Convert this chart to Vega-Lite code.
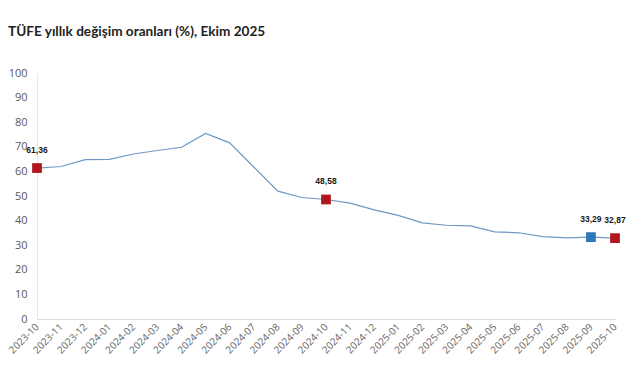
{
  "$schema": "https://vega.github.io/schema/vega-lite/v6.json",
  "width": 578,
  "height": 246,
  "autosize": {"type": "none"},
  "padding": {"left": 37, "top": 73, "right": 26, "bottom": 61},
  "background": "white",
  "title": {
    "text": "TÜFE yıllık değişim oranları (%), Ekim 2025",
    "anchor": "start",
    "frame": "group",
    "dx": -29,
    "offset": 17,
    "baseline": "alphabetic",
    "fontSize": 13.6,
    "fontWeight": "bold",
    "font": "Lato",
    "color": "#222222"
  },
  "config": {
    "view": {"stroke": null},
    "locale": {"number": {"decimal": ",", "thousands": ".", "grouping": [3], "currency": ["", " TL"]}}
  },
  "data": {
    "values": [
      {"ay": "2023-10", "oran": 61.36, "vurgu": "kirmizi"},
      {"ay": "2023-11", "oran": 61.98, "vurgu": null},
      {"ay": "2023-12", "oran": 64.77, "vurgu": null},
      {"ay": "2024-01", "oran": 64.86, "vurgu": null},
      {"ay": "2024-02", "oran": 67.07, "vurgu": null},
      {"ay": "2024-03", "oran": 68.50, "vurgu": null},
      {"ay": "2024-04", "oran": 69.80, "vurgu": null},
      {"ay": "2024-05", "oran": 75.45, "vurgu": null},
      {"ay": "2024-06", "oran": 71.60, "vurgu": null},
      {"ay": "2024-07", "oran": 61.78, "vurgu": null},
      {"ay": "2024-08", "oran": 51.97, "vurgu": null},
      {"ay": "2024-09", "oran": 49.38, "vurgu": null},
      {"ay": "2024-10", "oran": 48.58, "vurgu": "kirmizi"},
      {"ay": "2024-11", "oran": 47.09, "vurgu": null},
      {"ay": "2024-12", "oran": 44.38, "vurgu": null},
      {"ay": "2025-01", "oran": 42.12, "vurgu": null},
      {"ay": "2025-02", "oran": 39.05, "vurgu": null},
      {"ay": "2025-03", "oran": 38.10, "vurgu": null},
      {"ay": "2025-04", "oran": 37.86, "vurgu": null},
      {"ay": "2025-05", "oran": 35.41, "vurgu": null},
      {"ay": "2025-06", "oran": 35.05, "vurgu": null},
      {"ay": "2025-07", "oran": 33.52, "vurgu": null},
      {"ay": "2025-08", "oran": 32.95, "vurgu": null},
      {"ay": "2025-09", "oran": 33.29, "vurgu": "mavi"},
      {"ay": "2025-10", "oran": 32.87, "vurgu": "kirmizi"}
    ]
  },
  "encoding": {
    "x": {
      "field": "ay",
      "type": "ordinal",
      "scale": {"type": "point", "padding": 0},
      "axis": {
        "title": null,
        "labelAngle": -45,
        "labelAlign": "right",
        "labelBaseline": "middle",
        "labelFontSize": 10,
        "labelFont": "Open Sans",
        "labelColor": "#666666",
        "labelPadding": 6,
        "ticks": false,
        "domainColor": "#d9d9d9",
        "grid": false
      }
    },
    "y": {
      "field": "oran",
      "type": "quantitative",
      "scale": {"domain": [0, 100], "nice": false},
      "axis": {
        "title": null,
        "values": [0, 10, 20, 30, 40, 50, 60, 70, 80, 90, 100],
        "labelFontSize": 11,
        "labelFont": "Open Sans",
        "labelColor": "#595959",
        "labelPadding": 10,
        "ticks": false,
        "domainColor": "#e6e6e6",
        "grid": false
      }
    }
  },
  "layer": [
    {
      "mark": {"type": "line", "color": "#6E98C2", "strokeWidth": 1.2}
    },
    {
      "transform": [{"filter": "datum.vurgu != null"}],
      "mark": {"type": "square", "size": 95, "opacity": 1, "filled": true},
      "encoding": {
        "color": {
          "field": "vurgu",
          "type": "nominal",
          "scale": {"domain": ["kirmizi", "mavi"], "range": ["#B1161F", "#2F78BA"]},
          "legend": null
        }
      }
    },
    {
      "transform": [{"filter": "datum.vurgu != null"}],
      "mark": {"type": "text", "dy": -18, "fontSize": 8.5, "fontWeight": "bold", "font": "Liberation Sans", "color": "#1a1a1a"},
      "encoding": {
        "text": {"field": "oran", "type": "quantitative", "format": ".2f"}
      }
    }
  ]
}
